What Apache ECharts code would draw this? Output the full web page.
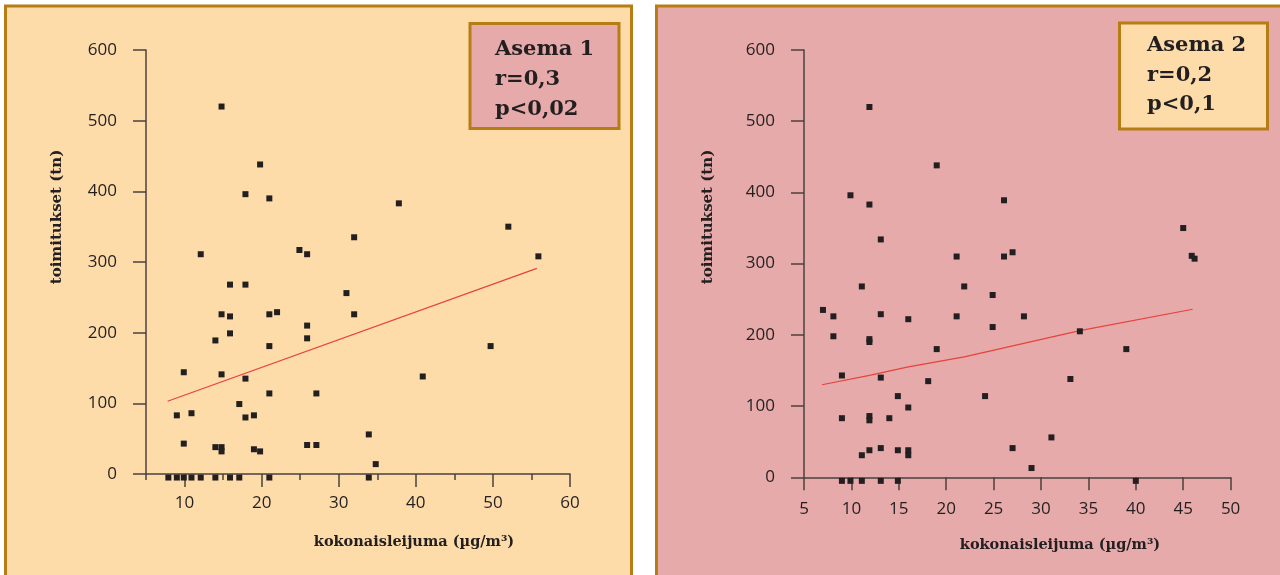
<!DOCTYPE html>
<html>
<head>
<meta charset="utf-8">
<script src="https://cdn.jsdelivr.net/npm/echarts@6/dist/echarts.min.js"></script>
<style>
html,body{margin:0;padding:0;background:#ffffff;}
#chart{width:1280px;height:575px;}
</style>
</head>
<body>
<div id="chart"></div>
<script>
// ---- Data ----
var station1Points = [
  [14.8,520],[19.8,438],[17.9,396],[21.0,390],[32.0,335],[12.1,311],[24.9,317],[25.9,311],
  [15.9,268],[17.9,268],[31.0,256],[14.8,226],[15.9,223],[21.0,226],[22.0,229],[32.0,226],
  [25.9,210],[15.9,199],[14.0,189],[25.9,192],[21.0,181],[9.9,144],[14.8,141],[17.9,135],
  [21.0,114],[27.1,114],[17.1,99],[9.0,83],[10.9,86],[17.9,80],[19.0,83],[9.9,43],
  [14.0,38],[14.8,38],[14.8,32],[19.0,35],[19.8,32],[25.9,41],[27.1,41],[33.9,56],
  [34.8,14],[37.8,383],[52.0,350],[55.9,308],[49.7,181],[40.9,138],
  [7.9,-5],[9.0,-5],[9.9,-5],[10.9,-5],[12.1,-5],[14.0,-5],[15.9,-5],[17.1,-5],[21.0,-5],[33.9,-5]
];
var station1Trend = [[7.8,103],[55.7,291]];

var station2Points = [
  [11.9,520],[19.0,438],[9.9,396],[11.9,383],[26.1,389],[13.1,334],[21.1,310],[26.1,310],
  [11.1,268],[21.9,268],[24.9,256],[7.0,235],[8.1,226],[13.1,229],[16.0,222],[21.1,226],
  [24.9,211],[8.1,198],[11.9,194],[11.9,190],[19.0,180],[9.0,143],[13.1,140],[18.1,135],
  [14.9,114],[24.1,114],[16.0,98],[9.0,83],[11.9,86],[11.9,80],[14.0,83],[11.1,31],
  [11.9,38],[13.1,41],[14.9,38],[16.0,38],[16.0,31],
  [45.0,350],[45.9,311],[46.2,307],[27.0,316],[28.2,226],[34.1,205],[39.0,180],[33.1,138],
  [31.1,56],[27.0,41],[29.0,13],
  [9.0,-5],[9.9,-5],[11.1,-5],[13.1,-5],[14.9,-5],[40.0,-5]
];
var station2Trend = [[6.9,130],[11.9,143],[16.0,155],[21.9,169],[34.1,206],[46.0,236]];

var leftMajorTicks = [10,20,30,40,50,60];
var leftMinorTicks = [5,15,25,35,45,55];
var rightTicks = [5,10,15,20,25,30,35,40,45,50];
var yTicks = [0,100,200,300,400,500,600];

var legend1 = ['Asema 1','r=0,3','p<0,02'];
var legend2 = ['Asema 2','r=0,2','p<0,1'];
var yTitle = 'toimitukset (tn)';
var xTitle = 'kokonaisleijuma (µg/m³)';

// ---- Styles ----
var peach = '#FDDCAA';
var pink = '#E6AAAA';
var gold = '#B67D14';
var axisCol = '#4A423E';
var ink = '#231F20';
var tickFont = {color: ink, fontFamily: 'Open Sans', fontSize: 17};

function yAxisDef(grid){
  return {
    type:'value', gridIndex:grid, min:0, max:600, interval:100,
    axisLine:{show:true, lineStyle:{color:axisCol, width:1.5}},
    axisTick:{show:true, inside:false, length:13, lineStyle:{color:axisCol, width:1.5}},
    axisLabel:Object.assign({margin:29, customValues:yTicks}, tickFont),
    splitLine:{show:false}
  };
}

var chart = echarts.init(document.getElementById('chart'), null, {renderer:'canvas'});

function legendTexts(lines, x, baselines){
  return lines.map(function(t,i){
    return {type:'text', z:20, x:x, y:baselines[i]-7,
      style:{text:t, fill:ink, font:'bold 21px "DejaVu Serif"', verticalAlign:'middle', align:'left'}};
  });
}

var graphics = [
  {type:'rect', z:-10, shape:{x:5.5, y:6, width:626, height:620}, style:{fill:peach, stroke:gold, lineWidth:3}},
  {type:'rect', z:-10, shape:{x:656.5, y:6, width:700, height:620}, style:{fill:pink, stroke:gold, lineWidth:3}},
  {type:'rect', z:15, shape:{x:470, y:23.5, width:149, height:105}, style:{fill:pink, stroke:gold, lineWidth:3}},
  {type:'rect', z:15, shape:{x:1119.5, y:23, width:148, height:106}, style:{fill:peach, stroke:gold, lineWidth:3}},
  {type:'text', z:20, x:57, y:217, rotation:Math.PI/2,
    style:{text:yTitle, fill:ink, font:'bold 15px "DejaVu Serif"', align:'center', verticalAlign:'middle'}},
  {type:'text', z:20, x:708, y:217, rotation:Math.PI/2,
    style:{text:yTitle, fill:ink, font:'bold 15px "DejaVu Serif"', align:'center', verticalAlign:'middle'}},
  {type:'text', z:20, x:414, y:542,
    style:{text:xTitle, fill:ink, font:'bold 14.5px "DejaVu Serif"', align:'center', verticalAlign:'middle'}},
  {type:'text', z:20, x:1060, y:545,
    style:{text:xTitle, fill:ink, font:'bold 14.5px "DejaVu Serif"', align:'center', verticalAlign:'middle'}}
].concat(legendTexts(legend1, 495, [57,87,117])).concat(legendTexts(legend2, 1147, [53,83,112]));

var option = {
  animation:false,
  backgroundColor:'#ffffff',
  graphic:{elements:graphics},
  grid:[
    {left:146, top:50, width:424, height:424},
    {left:804, top:50, width:426.6, height:427.3}
  ],
  xAxis:[
    {type:'value', gridIndex:0, min:5, max:60,
      axisLine:{show:true, onZero:false, lineStyle:{color:axisCol, width:1.5}},
      axisTick:{show:true, length:13, customValues:leftMajorTicks, lineStyle:{color:axisCol, width:1.5}},
      axisLabel:Object.assign({margin:21, customValues:leftMajorTicks}, tickFont),
      splitLine:{show:false}},
    {type:'value', gridIndex:0, min:5, max:60, position:'bottom',
      axisLine:{show:false},
      axisTick:{show:true, length:6, customValues:leftMinorTicks, lineStyle:{color:axisCol, width:1.5}},
      axisLabel:{show:false},
      splitLine:{show:false}},
    {type:'value', gridIndex:1, min:5, max:50, interval:5,
      axisLine:{show:true, onZero:false, lineStyle:{color:axisCol, width:1.5}},
      axisTick:{show:true, length:13, customValues:rightTicks, lineStyle:{color:axisCol, width:1.5}},
      axisLabel:Object.assign({margin:23, customValues:rightTicks}, tickFont),
      splitLine:{show:false}}
  ],
  yAxis:[yAxisDef(0), yAxisDef(1)],
  series:[
    {type:'line', xAxisIndex:0, yAxisIndex:0, data:station1Trend, showSymbol:false, symbol:'none',
      lineStyle:{color:'#E8423B', width:1.2}, z:3},
    {type:'scatter', xAxisIndex:0, yAxisIndex:0, data:station1Points, symbol:'rect', symbolSize:6,
      itemStyle:{color:ink, opacity:1}, clip:false, z:4},
    {type:'line', xAxisIndex:2, yAxisIndex:1, data:station2Trend, showSymbol:false, symbol:'none',
      lineStyle:{color:'#E8423B', width:1.2}, z:3},
    {type:'scatter', xAxisIndex:2, yAxisIndex:1, data:station2Points, symbol:'rect', symbolSize:6,
      itemStyle:{color:ink, opacity:1}, clip:false, z:4}
  ]
};
chart.setOption(option);
</script>
</body>
</html>
